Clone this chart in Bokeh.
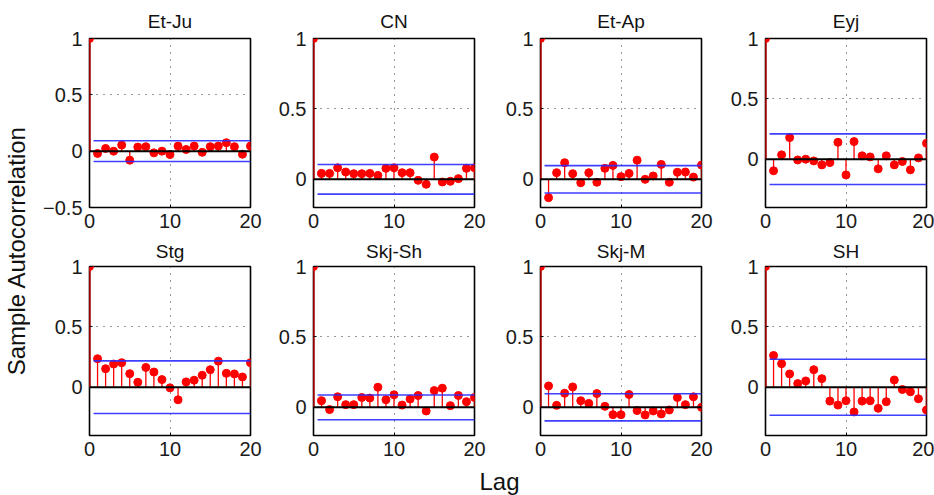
from math import pi
from bokeh.plotting import figure
from bokeh.layouts import row, column
from bokeh.models import FixedTicker, ColumnDataSource, Range1d, Span
from bokeh.embed import file_html
from bokeh.resources import INLINE
from bokeh.core.properties import value

titles = ["Et-Ju", "CN", "Et-Ap", "Eyj", "Stg", "Skj-Sh", "Skj-M", "SH"]
lags = list(range(21))

acf_et_ju = [1.0, -0.02, 0.024, 0.0, 0.054, -0.08, 0.036, 0.04, -0.015, 0.0, -0.03,
             0.045, 0.015, 0.045, -0.01, 0.04, 0.045, 0.075, 0.04, -0.027, 0.045]
acf_cn = [1.0, 0.042, 0.042, 0.082, 0.052, 0.04, 0.04, 0.042, 0.028, 0.078, 0.082,
          0.047, 0.047, -0.007, -0.035, 0.158, -0.019, -0.014, 0.005, 0.078, 0.082]
acf_et_ap = [1.0, -0.13, 0.047, 0.118, 0.04, -0.024, 0.047, -0.021, 0.078, 0.099, 0.019,
             0.042, 0.136, 0.0, 0.024, 0.106, -0.021, 0.05, 0.052, 0.016, 0.101]
acf_eyj = [1.0, -0.096, 0.036, 0.179, -0.006, 0.0, -0.014, -0.047, -0.028, 0.14, -0.13,
           0.146, 0.028, 0.019, -0.08, 0.028, -0.047, -0.019, -0.088, 0.011, 0.132]
acf_stg = [1.0, 0.236, 0.153, 0.192, 0.203, 0.112, 0.041, 0.164, 0.126, 0.063, -0.005,
           -0.104, 0.044, 0.058, 0.099, 0.145, 0.216, 0.115, 0.11, 0.085, 0.203]
acf_skj_sh = [1.0, 0.047, -0.016, 0.075, 0.019, 0.019, 0.07, 0.066, 0.143, 0.054, 0.089,
              0.016, 0.059, 0.084, -0.026, 0.119, 0.136, 0.012, 0.084, 0.04, 0.07]
acf_skj_m = [1.0, 0.152, 0.014, 0.1, 0.145, 0.047, 0.028, 0.098, 0.007, -0.052, -0.052,
             0.091, -0.023, -0.054, -0.026, -0.047, -0.019, 0.07, 0.019, 0.075, 0.0]
acf_sh = [1.0, 0.263, 0.195, 0.11, 0.03, 0.052, 0.145, 0.071, -0.115, -0.148, -0.112,
          -0.205, -0.115, -0.112, -0.175, -0.12, 0.06, -0.019, -0.038, -0.096, -0.189]

acfs = [acf_et_ju, acf_cn, acf_et_ap, acf_eyj, acf_stg, acf_skj_sh, acf_skj_m, acf_sh]
bounds = [0.092, 0.105, 0.097, 0.21, 0.218, 0.088, 0.096, 0.232]
y_lower = [-0.5, -0.2, -0.2, -0.4, -0.4, -0.2, -0.2, -0.4]
x_ticks = [0, 10, 20]

FONT = "Liberation Sans"
RED = "#ff0000"
BLUE = "#2a2aff"

# borders (left, right) per column, (top, bottom) per row
col_borders = [(59, 20), (43, 21), (45, 19), (45, 8)]
row_borders = [(38, 30), (29, 30)]
title_standoff = [10, 6]


def make_panel(i):
    r, c = divmod(i, 4)
    bl, br = col_borders[c]
    bt, bb = row_borders[r]
    acf = acfs[i]
    p = figure(frame_width=161, frame_height=169,
               x_range=Range1d(0, 20), y_range=Range1d(y_lower[i], 1),
               output_backend="svg", toolbar_location=None,
               min_border_left=bl, min_border_right=br,
               min_border_top=bt, min_border_bottom=bb,
               title=titles[i])
    p.title.align = "center"
    p.title.vertical_align = "top"
    p.title.text_font = FONT
    p.title.text_font_style = "normal"
    p.title.text_font_size = "19px"
    p.title.text_color = "#111111"
    p.title.standoff = title_standoff[r]
    p.outline_line_color = "black"
    p.outline_line_width = 1.6
    p.background_fill_color = "white"
    p.border_fill_color = "white"

    yt = [v for v in [-0.5, 0, 0.5, 1] if v >= y_lower[i] - 1e-9]
    p.xaxis.ticker = FixedTicker(ticks=x_ticks)
    p.yaxis.ticker = FixedTicker(ticks=yt)
    p.yaxis.major_label_overrides = {-0.5: "\u22120.5", 0: "0", 0.5: "0.5", 1: "1"}
    for ax in (p.xaxis[0], p.yaxis[0]):
        ax.axis_line_color = None
        ax.major_tick_out = 0
        ax.major_tick_in = 3
        ax.major_tick_line_color = "black"
        ax.minor_tick_line_color = None
        ax.major_label_text_font = FONT
        ax.major_label_text_font_size = "20px"
        ax.major_label_text_color = "#1a1a1a"
    p.xaxis.major_label_standoff = 6
    p.yaxis.major_label_standoff = 7

    for g in (p.xgrid[0], p.ygrid[0]):
        g.grid_line_color = "#333333"
        g.grid_line_dash = "1 6"
        g.grid_line_width = 1

    src = ColumnDataSource(dict(lag=lags, acf=acf, zero=[0] * len(lags)))
    p.add_layout(Span(location=0, dimension="width", line_color="black", line_width=2))
    p.segment(x0="lag", y0="zero", x1="lag", y1="acf", source=src,
              line_color=RED, line_width=1.3)
    p.segment(x0=[lags[0]], y0=[0], x1=[lags[0]], y1=[acf[0]],
              line_color="#b00000", line_width=2.2)
    p.scatter(x="lag", y="acf", source=src, size=8, fill_color=RED,
              line_color=RED)
    b = bounds[i]
    xb = [lags[0] + 0.5, lags[-1]]
    p.line(x=xb, y=[b, b], line_color=BLUE, line_width=1.6, line_alpha=0.9)
    p.line(x=xb, y=[-b, -b], line_color=BLUE, line_width=1.6, line_alpha=0.9)
    return p


panels = [make_panel(i) for i in range(8)]

left = figure(width=30, height=495, x_range=Range1d(0, 30), y_range=Range1d(0, 495),
              output_backend="svg", toolbar_location=None, min_border=0)
left.axis.visible = False
left.grid.visible = False
left.outline_line_color = None
left.text(x=[16], y=[245], text=["Sample Autocorrelation"], angle=pi / 2,
          text_align="center", text_baseline="middle", text_font=value(FONT),
          text_font_size="24px", text_color="#111111")

bottom = figure(width=904, height=30, x_range=Range1d(0, 904), y_range=Range1d(0, 30),
                output_backend="svg", toolbar_location=None, min_border=0)
bottom.axis.visible = False
bottom.grid.visible = False
bottom.outline_line_color = None
bottom.text(x=[469], y=[14], text=["Lag"], text_align="center",
            text_baseline="middle", text_font=value(FONT),
            text_font_size="24px", text_color="#111111")

layout = row(left, column(row(*panels[:4]), row(*panels[4:]), bottom))

open("out.html", "w").write(file_html(layout, INLINE))
